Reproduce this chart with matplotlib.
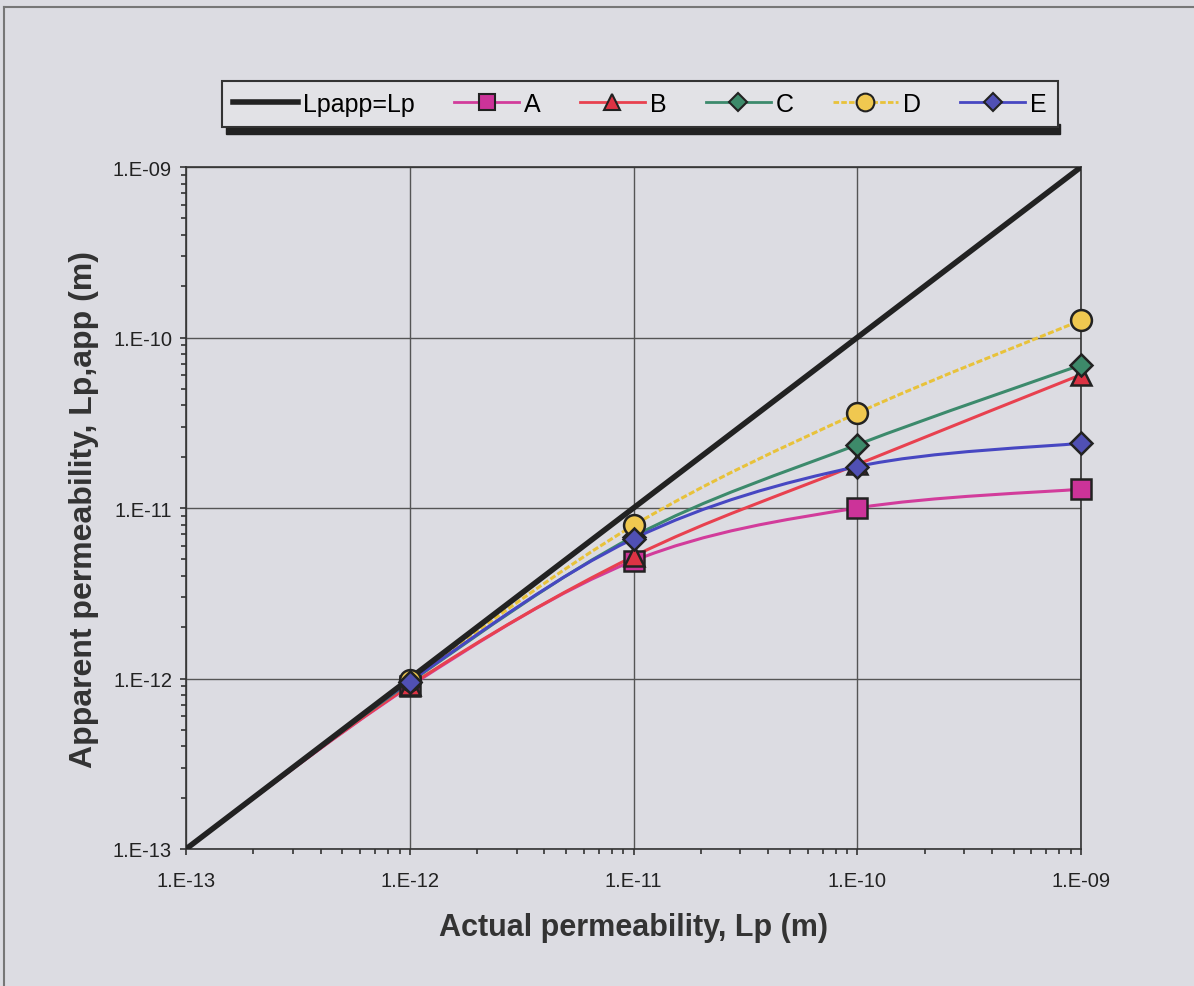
import matplotlib.pyplot as plt
import numpy as np
from matplotlib.path import Path
from matplotlib.patches import PathPatch, Rectangle
from matplotlib.lines import Line2D

plt.rcParams['font.family'] = ['Liberation Sans', 'DejaVu Sans']

# datos
lp = [1e-13, 1e-12, 1e-11, 1e-10, 1e-9]
ideal_x = [1e-13, 1e-9]
ideal_y = [1e-13, 1e-9]
serie_a = [1e-13, 0.90e-12, 4.9e-12, 1.0e-11, 1.29e-11]
serie_b = [1e-13, 0.91e-12, 5.2e-12, 1.8e-11, 6.05e-11]
serie_c = [1e-13, 0.95e-12, 6.8e-12, 2.35e-11, 6.9e-11]
serie_d = [1e-13, 0.98e-12, 7.9e-12, 3.6e-11, 1.26e-10]
serie_e = [1e-13, 0.96e-12, 6.6e-12, 1.75e-11, 2.4e-11]
nombres = ['A', 'B', 'C', 'D', 'E']
etiquetas = ['1.E-13', '1.E-12', '1.E-11', '1.E-10', '1.E-09']

estilos = {
    'A': dict(line='#d23c9b', face='#cc3399', marker='s', ms=14, ls='-'),
    'B': dict(line='#e8414f', face='#dd3344', marker='^', ms=14, ls='-'),
    'C': dict(line='#3c8a6c', face='#3d8a6a', marker='D', ms=11, ls='-'),
    'D': dict(line='#e8c23a', face='#f0c850', marker='o', ms=15, ls=(0, (2, 0.8))),
    'E': dict(line='#4747c2', face='#5050b4', marker='D', ms=11, ls='-'),
}
series = dict(zip(nombres, [serie_a, serie_b, serie_c, serie_d, serie_e]))

bg = '#dcdce2'
fig = plt.figure(figsize=(11.94, 9.87), dpi=100, facecolor=bg)
ax = fig.add_axes([186 / 1194, 1 - 850 / 987, (1081 - 186) / 1194, (850 - 168) / 987])
ax.set_facecolor(bg)
ax.set_xscale('log')
ax.set_yscale('log')
ax.set_xlim(1e-13, 1e-9)
ax.set_ylim(1e-13, 1e-9)


def curva_suave(xs, ys):
    # suavizado tipo Excel (Catmull-Rom en espacio log)
    p = np.column_stack([np.log10(xs), np.log10(ys)])
    n = len(p)
    verts = [p[0]]
    codes = [Path.MOVETO]
    for i in range(n - 1):
        p0 = p[i - 1] if i > 0 else p[i]
        p3 = p[i + 2] if i + 2 < n else p[i + 1]
        c1 = p[i] + (p[i + 1] - p0) / 6
        c2 = p[i + 1] - (p3 - p[i]) / 6
        verts += [c1, c2, p[i + 1]]
        codes += [Path.CURVE4] * 3
    return Path(verts, codes)


tr = ax.transLimits + ax.transAxes
ax.plot(ideal_x, ideal_y, color='#222222', lw=4, solid_capstyle='butt', zorder=4)

for n in nombres:
    e = estilos[n]
    ys = series[n]
    ax.add_patch(PathPatch(curva_suave(lp, ys), transform=tr, fill=False,
                           edgecolor=e['line'], lw=2.2, linestyle=e['ls'], zorder=3))
    ax.plot(lp[1:], ys[1:], ls='none', marker=e['marker'], ms=e['ms'],
            mfc=e['face'], mec='#222222', mew=1.8, zorder=5, clip_on=False)

ax.grid(True, which='major', color='#555555', lw=1)
ax.set_axisbelow(True)
for s in ax.spines.values():
    s.set_color('#333333')
    s.set_linewidth(1.2)
ax.tick_params(which='major', length=4, width=1.2, color='#333333', labelsize=14.5,
               labelcolor='#222222')
ax.tick_params(axis='x', which='major', pad=12)
ax.tick_params(axis='y', which='major', pad=6)
ax.tick_params(which='minor', length=3.5, width=1.2, color='#333333')
ax.set_xticks(lp)
ax.set_yticks(lp)
ax.set_xticklabels(etiquetas)
ax.set_yticklabels(etiquetas)
ax.set_xlabel('Actual permeability, Lp (m)', fontsize=22, fontweight='bold', labelpad=16,
              color='#333333')
ax.set_ylabel('Apparent permeability, Lp,app (m)', fontsize=23, fontweight='bold', labelpad=10,
              color='#333333')

# leyenda con sombra
handles = [Line2D([], [], color='#222222', lw=4)]
for n in nombres:
    e = estilos[n]
    handles.append(Line2D([], [], color=e['line'], lw=2, ls=e['ls'], marker=e['marker'],
                          ms=e['ms'] * 0.85, mfc=e['face'], mec='#222222', mew=1.5))
fig.patches.append(Rectangle((226 / 1194, 1 - 135 / 987), (1060 - 226) / 1194, 10 / 987,
                             transform=fig.transFigure, color='#222222', zorder=0))
leg = fig.legend(handles, ['Lpapp=Lp'] + nombres, loc='lower left', ncol=6, mode='expand',
                 bbox_to_anchor=(222 / 1194, 1 - 128 / 987, 836 / 1194, 48 / 987), fontsize=18,
                 frameon=True, fancybox=False, shadow=False, edgecolor='#333333',
                 facecolor='#e2e2e6', handlelength=2.6, handletextpad=0.2,
                 borderpad=0.45, borderaxespad=0)
leg.get_frame().set_linewidth(1.5)
leg.get_frame().set_alpha(1)
leg.set_zorder(2)

# marco exterior (solo arriba e izquierda visibles)
fig.add_artist(Line2D([4 / 1194, 4 / 1194], [0, 1 - 8 / 987], transform=fig.transFigure,
                      color='#777777', lw=1.5))
fig.add_artist(Line2D([4 / 1194, 1], [1 - 8 / 987, 1 - 8 / 987], transform=fig.transFigure,
                      color='#777777', lw=1.5))

fig.savefig('out.png', dpi=100, facecolor=bg)
